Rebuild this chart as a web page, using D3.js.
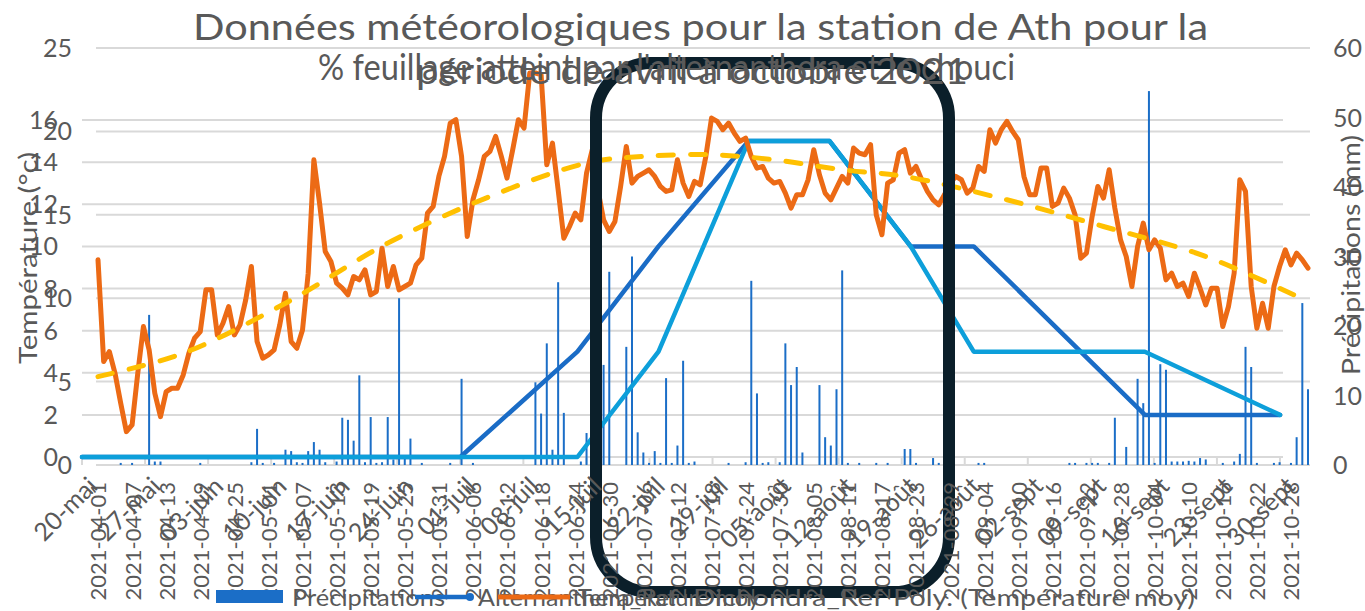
<!DOCTYPE html>
<html><head><meta charset="utf-8">
<script src="https://cdn.jsdelivr.net/npm/d3@7"></script>
<style>
body{margin:0;background:#fff}
svg{display:block}
text{font-family:Lato,"Open Sans",sans-serif;fill:#595959}
</style></head>
<body><svg id="c" width="1365" height="611"></svg>
<script>
// ---------- DATA ----------
const startDay = "2021-04-01", endDayExcl = "2021-11-01";
// daily mean temperature (°C), 2021-04-01 .. 2021-10-31
const temperature = [
12.3,6.2,6.8,5.5,3.7,2.0,2.4,5.5,8.3,6.9,
4.3,2.9,4.4,4.6,4.6,5.4,6.7,7.6,8.0,10.5,
10.5,7.8,8.5,9.5,7.8,8.4,9.9,11.9,7.4,6.4,
6.6,6.9,8.4,10.3,7.4,7.0,8.1,11.5,18.3,15.7,
12.8,12.2,10.9,10.6,10.2,11.3,11.1,11.7,10.2,10.4,
13.0,10.7,11.9,10.5,10.7,10.9,12.0,12.4,15.1,15.5,
17.3,18.5,20.5,20.7,18.5,13.7,15.9,17.1,18.5,18.8,
19.7,18.5,17.2,18.9,20.7,20.2,23.5,23.5,23.4,18.0,
19.3,16.5,13.6,14.3,15.1,14.7,17.5,18.9,16.5,14.7,
14.0,14.6,16.7,19.1,16.9,17.3,17.5,17.7,17.3,16.7,
16.4,16.5,18.3,16.9,16.1,17.0,16.8,18.5,20.8,20.6,
20.1,20.5,19.9,19.4,19.6,18.5,17.8,17.9,17.2,16.9,
17.0,16.3,15.4,16.2,16.2,17.1,18.9,17.4,16.3,15.9,
16.6,17.3,16.9,19.0,18.7,18.6,19.2,15.0,13.8,16.9,
17.1,18.7,18.9,17.5,17.9,17.1,16.4,15.9,15.6,16.2,
16.9,17.3,17.1,16.3,16.6,17.9,17.6,20.1,19.3,20.1,
20.6,20.0,19.5,17.3,16.2,16.2,17.8,17.8,15.5,15.7,
16.6,16.0,15.0,12.4,12.7,14.9,16.7,16.0,17.7,15.4,
13.5,12.5,10.7,13.1,14.5,12.9,13.5,13.0,11.1,11.5,
10.7,10.9,10.1,11.5,10.6,9.6,10.6,10.6,8.3,9.5,
11.5,17.1,16.4,10.7,8.2,9.7,8.2,10.7,11.9,12.9,
12.0,12.7,12.3,11.8
];
// daily precipitation (mm)
const precipitation = [
0,0,0,0,0.3,0,0.3,0,0,21.6,
0.5,0.5,0,0,0,0,0,0,0.3,0,
0,0,0,0,0,0,0,0.4,5.2,0.3,
0,0.3,0,2.2,2.0,0.4,0.3,2.0,3.3,2.2,
0.4,0,0.5,6.8,6.5,3.5,12.9,0.4,6.9,0.3,
0.4,6.9,0.8,24.0,1.0,3.8,0,0.3,0,0,
0,0,0.3,0,12.4,0,0.3,0,0,0,
0,0,0,0,0,0,0,11.9,7.4,17.5,
2.2,26.3,7.5,0,0,0.5,4.6,0,0,14.4,
27.8,0,0,17.0,30.0,4.7,1.8,0.3,2.0,0.3,
12.5,0.3,2.8,15.0,0.3,0.5,0,0,0,0,
0,0.3,0,0,0.4,26.5,10.3,0.3,0.4,0,
0.4,17.5,11.5,14.1,1.8,0,0,11.5,4.0,2.8,
10.9,28.0,0.3,0,0.3,0,0,0.3,0,0.3,
0,0,2.3,2.3,0.3,0,0,1.0,0.3,0,
0,0,0,0,0,0.3,0.3,0,0,0,
0,0,0,0,0,0,0,0,0,0,
0,0.3,0.3,0,0.3,0.3,0.3,0,0.3,6.8,
0,2.6,0,12.4,8.9,53.8,0.3,14.5,13.7,0.5,
0.5,0.5,0.6,0.5,1.0,0.8,0,0,0.3,0,
0.5,1.6,17.0,14.1,0.3,0,0,0.3,0.4,0,
0.3,4.0,23.3,10.9
];
// polynomial trendline of the temperature (day index -> °C)
const trendDays = [0,15,33,51,69,86,96,108,119,131,142,160,177,195,213];
const trendVals = [5.3,6.7,9.7,13.3,16.1,18.1,18.5,18.6,18.3,17.7,17.3,15.9,14.3,12.5,9.8];

const tempTicks = [0,5,10,15,20,25];
const precipTicks = [0,10,20,30,40,50,60];
const leafTicks = [0,2,4,6,8,10,12,14,16];

// second (overlaid) chart: % foliage
const leafDates = ["2021-05-20","2021-05-27","2021-06-03","2021-06-10","2021-06-17","2021-06-24","2021-07-01","2021-07-14","2021-07-23","2021-08-02","2021-08-11","2021-08-20","2021-08-27","2021-09-15","2021-09-30"];
const alternanthera = [0,0,0,0,0,0,0,5,10,15,15,10,10,2,2];
const dichondra     = [0,0,0,0,0,0,0,0,5,15,15,10,5,5,2];
const weekLabels = ["20-mai","27-mai","03-juin","10-juin","17-juin","24-juin","01-juil","08-juil","15-juil","22-juil","29-juil","05-août","12-août","19-août","26-août","02-sept","09-sept","16-sept","23-sept","30-sept"];

const titleA1 = "Données météorologiques pour la station de Ath pour la";
const titleA2 = "période de avril à octobre 2021";
const titleB = "% feuillage atteint par l'alternanthera et le chouci";

// ---------- DRAW ----------
const svg = d3.select("#c");
const parse = d3.timeParse("%Y-%m-%d");
const fmt = d3.timeFormat("%Y-%m-%d");
const days = d3.timeDay.range(parse(startDay), parse(endDayExcl)).map(fmt);
const dateTicks = days.filter((d,i)=>i%6===0);

const xA = d3.scalePoint().domain(days).range([98,1308]);
const xIdx = d3.scaleLinear().domain([0,days.length-1]).range([98,1308]);
const yT = d3.scaleLinear().domain([0,25]).range([465,48]);
const yP = d3.scaleLinear().domain([0,60]).range([465,48]);
const xB = d3.scaleTime().domain([parse("2021-05-20"),parse("2021-09-30")]).range([82,1280]);
const yB = d3.scaleLinear().domain([0,16]).range([457,120]);
const weekTickDates = weekLabels.map((l,i)=>d3.timeDay.offset(parse("2021-05-20"),7*i));

const grid = "#d9d9d9";
svg.append("g").selectAll("line").data(tempTicks).join("line")
  .attr("x1",96).attr("x2",1310).attr("y1",d=>yT(d)).attr("y2",d=>yT(d))
  .attr("stroke",grid).attr("stroke-width",2);
svg.append("g").selectAll("line").data(leafTicks).join("line")
  .attr("x1",82).attr("x2",1283).attr("y1",d=>yB(d)).attr("y2",d=>yB(d))
  .attr("stroke",grid).attr("stroke-width",2);
svg.append("g").selectAll("line").data(weekTickDates).join("line")
  .attr("x1",d=>xB(d)).attr("x2",d=>xB(d)).attr("y1",457).attr("y2",465)
  .attr("stroke",grid).attr("stroke-width",2);

// precipitation bars
svg.append("g").selectAll("rect").data(precipitation).join("rect")
  .attr("x",(d,i)=>xA(days[i])-1).attr("width",2)
  .attr("y",d=>yP(d)).attr("height",d=>yP(0)-yP(d))
  .attr("fill","#1b6ec7");

// chart B lines
const lineB = vals => d3.line().x((d,i)=>xB(parse(leafDates[i]))).y(d=>yB(d))(vals);
svg.append("path").attr("d",lineB(alternanthera)).attr("fill","none")
  .attr("stroke","#1a6cc6").attr("stroke-width",4.5).attr("stroke-linejoin","round").attr("stroke-linecap","round");
svg.append("path").attr("d",lineB(dichondra)).attr("fill","none")
  .attr("stroke","#0d9fda").attr("stroke-width",4.5).attr("stroke-linejoin","round").attr("stroke-linecap","round");

// temperature line
svg.append("path")
  .attr("d",d3.line().x((d,i)=>xA(days[i])).y(d=>yT(d))(temperature))
  .attr("fill","none").attr("stroke","#ec6a15").attr("stroke-width",5)
  .attr("stroke-linejoin","round").attr("stroke-linecap","round");

// trendline
svg.append("path")
  .attr("d",d3.line().curve(d3.curveCatmullRom.alpha(0.5)).x((d,i)=>xIdx(trendDays[i])).y(d=>yT(d))(trendVals))
  .attr("fill","none").attr("stroke","#ffc000").attr("stroke-width",5)
  .attr("stroke-dasharray","15,17").attr("stroke-linecap","round");

// rounded highlight rectangle
svg.append("rect").attr("x",596).attr("y",63).attr("width",353).attr("height",529)
  .attr("rx",55).attr("fill","none").attr("stroke","#0b1f2a").attr("stroke-width",12);

// axis tick labels
svg.append("g").selectAll("text").data(tempTicks).join("text")
  .attr("x",72).attr("y",d=>yT(d)).attr("dy","0.36em").attr("text-anchor","end")
  .style("font-size","25px").text(d=>d);
svg.append("g").selectAll("text").data(leafTicks).join("text")
  .attr("x",58).attr("y",d=>yB(d)).attr("dy","0.36em").attr("text-anchor","end")
  .style("font-size","25px").text(d=>d);
svg.append("g").selectAll("text").data(precipTicks).join("text")
  .attr("x",1333).attr("y",d=>yP(d)).attr("dy","0.36em").attr("text-anchor","start")
  .style("font-size","25px").text(d=>d);

// x axis chart A (rotated -90)
const gxA = svg.append("g").attr("transform","translate(0,474)")
  .call(d3.axisBottom(xA).tickValues(dateTicks).tickSize(0));
gxA.select(".domain").remove();
gxA.selectAll("text").attr("transform","rotate(-90)").attr("x",-8).attr("y",0)
  .attr("dy","0.36em").style("text-anchor","end").style("font-size","22px")
  .style("font-family","Lato").attr("fill","#595959");

// x axis chart B (rotated -45)
const gxB = svg.append("g").attr("transform","translate(4,486)")
  .call(d3.axisBottom(xB).tickValues(weekTickDates).tickSize(0).tickFormat((d,i)=>weekLabels[i]));
gxB.select(".domain").remove();
gxB.selectAll("text").attr("transform","rotate(-45)").attr("x",0).attr("y",0)
  .attr("dx","0.3em").attr("dy","0.4em").style("text-anchor","end").style("font-size","25px")
  .style("font-family","Lato").attr("fill","#595959");

// axis titles
svg.append("text").attr("transform","translate(37,258) rotate(-90)").attr("text-anchor","middle")
  .style("font-size","25px").attr("textLength",212).attr("lengthAdjust","spacingAndGlyphs").text("Température (°c)");
svg.append("text").attr("transform","translate(1360,255) rotate(-90)").attr("text-anchor","middle")
  .style("font-size","25px").attr("textLength",240).attr("lengthAdjust","spacingAndGlyphs").text("Précipitations (mm)");

// titles
svg.append("text").attr("x",193).attr("y",40).style("font-size","36px")
  .attr("textLength",1015).attr("lengthAdjust","spacingAndGlyphs").text(titleA1);
svg.append("text").attr("x",318).attr("y",80).style("font-size","36px")
  .attr("textLength",697).attr("lengthAdjust","spacingAndGlyphs").text(titleB);
svg.append("text").attr("x",416).attr("y",84).style("font-size","36px")
  .attr("textLength",552).attr("lengthAdjust","spacingAndGlyphs").text(titleA2);

// legends
const lg = svg.append("g");
lg.append("rect").attr("x",216).attr("y",590).attr("width",67).attr("height",13).attr("fill","#1b6ec7");
lg.append("text").attr("x",292).attr("y",606).style("font-size","24px").attr("textLength",153).attr("lengthAdjust","spacingAndGlyphs").text("Précipitations");
lg.append("line").attr("x1",415).attr("x2",470).attr("y1",597).attr("y2",597).attr("stroke","#1a6cc6").attr("stroke-width",4.5);
lg.append("circle").attr("cx",470).attr("cy",597).attr("r",4).attr("fill","#1a6cc6");
lg.append("text").attr("x",478).attr("y",606).style("font-size","24px").attr("textLength",200).attr("lengthAdjust","spacingAndGlyphs").text("Alternanthera_Ref");
lg.append("line").attr("x1",498).attr("x2",570).attr("y1",597).attr("y2",597).attr("stroke","#ec6a15").attr("stroke-width",5);
lg.append("text").attr("x",578).attr("y",606).style("font-size","24px").attr("textLength",182).attr("lengthAdjust","spacingAndGlyphs").text("Température moy");
lg.append("text").attr("x",693).attr("y",606).style("font-size","24px").attr("textLength",190).attr("lengthAdjust","spacingAndGlyphs").text("Dichondra_Ref");
lg.append("text").attr("x",893).attr("y",606).style("font-size","24px").attr("textLength",302).attr("lengthAdjust","spacingAndGlyphs").text("Poly. (Température moy)");
</script></body></html>
